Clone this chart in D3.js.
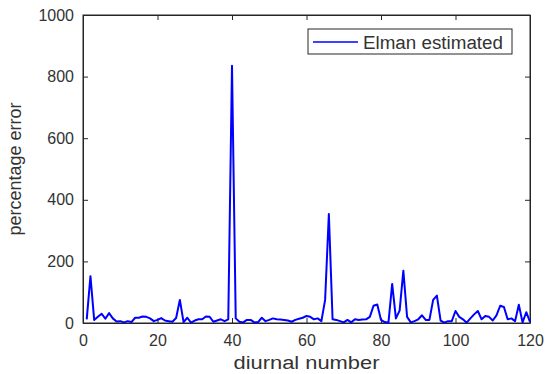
<!DOCTYPE html>
<html>

<head>
  <meta charset="utf8">
  <script src="https://d3js.org/d3.v7.min.js"></script>
  <style>
    body { margin: 0; background: #fff; }
    text { font-family: "Liberation Sans", Arial, sans-serif; fill: #333; }
    .axis path, .axis line { stroke: #262626; }
    .axis text { font-size: 16px; fill: #333; }
  </style>
</head>

<body>
  <svg id="chart" width="545" height="374"></svg>
  <script>
    var xTicks = [0, 20, 40, 60, 80, 100, 120];
    var yTicks = [0, 200, 400, 600, 800, 1000];
    var seriesName = 'Elman estimated';
    var days = d3.range(1, 121);
    var errors = [
      12, 152, 10, 20, 30, 14, 32, 15, 5, 6,
      2, 6, 3, 17, 17, 21, 20, 15, 6, 10,
      16, 8, 6, 4, 16, 75, 3, 17, 1, 8,
      12, 12, 21, 20, 4, 8, 12, 6, 12, 835,
      15, 4, 2, 10, 10, 2, 3, 17, 6, 10,
      15, 12, 11, 10, 8, 4, 10, 14, 17, 23,
      20, 12, 15, 6, 75, 354, 12, 10, 6, 2,
      10, 2, 12, 10, 11, 12, 20, 56, 60, 10,
      3, 1, 127, 15, 40, 170, 20, 2, 6, 12,
      25, 10, 10, 75, 89, 8, 1, 6, 6, 39,
      20, 12, 1, 15, 28, 39, 12, 23, 20, 8,
      25, 56, 52, 12, 15, 6, 59, 2, 35, 4
    ];

    var chart = d3.select('#chart');
    var plotLeft = 83, plotRight = 530, plotTop = 15, plotBottom = 323;

    var x = d3.scaleLinear().domain([0, 120]).range([plotLeft, plotRight]);
    var y = d3.scaleLinear().domain([0, 1000]).range([plotBottom, plotTop]);

    // box
    chart.append('rect')
      .attr('x', plotLeft).attr('y', plotTop)
      .attr('width', plotRight - plotLeft).attr('height', plotBottom - plotTop)
      .attr('fill', 'none').attr('stroke', '#262626');

    chart.append('g').attr('class', 'axis')
      .attr('transform', 'translate(0,' + plotBottom + ')')
      .call(d3.axisBottom(x).tickValues(xTicks).tickSizeInner(-5).tickSizeOuter(0).tickPadding(12));

    chart.append('g').attr('class', 'axis')
      .attr('transform', 'translate(' + plotLeft + ',0)')
      .call(d3.axisLeft(y).tickValues(yTicks).tickFormat(d3.format('d'))
        .tickSizeInner(-5).tickSizeOuter(0).tickPadding(9));

    // mirrored ticks on top and right
    chart.append('g').attr('class', 'axis')
      .attr('transform', 'translate(0,' + plotTop + ')')
      .call(d3.axisTop(x).tickValues(xTicks).tickSizeInner(-5).tickSizeOuter(0).tickFormat(''));

    chart.append('g').attr('class', 'axis')
      .attr('transform', 'translate(' + plotRight + ',0)')
      .call(d3.axisRight(y).tickValues(yTicks).tickSizeInner(-5).tickSizeOuter(0).tickFormat(''));

    var line = d3.line()
      .x((d, i) => x(days[i]))
      .y((d) => y(d));

    chart.append('path')
      .datum(errors)
      .attr('d', line)
      .attr('fill', 'none')
      .attr('stroke', '#0000ff')
      .attr('stroke-width', 2)
      .attr('stroke-linejoin', 'round');

    chart.append('text')
      .attr('x', (plotLeft + plotRight) / 2)
      .attr('y', 369)
      .attr('text-anchor', 'middle')
      .attr('font-size', 18)
      .attr('textLength', 146)
      .attr('lengthAdjust', 'spacingAndGlyphs')
      .text('diurnal number');

    chart.append('text')
      .attr('transform', 'translate(21,' + (plotTop + plotBottom) / 2 + ') rotate(-90)')
      .attr('text-anchor', 'middle')
      .attr('font-size', 18)
      .text('percentage error');

    // legend
    var legend = chart.append('g');
    legend.append('rect')
      .attr('x', 308).attr('y', 29).attr('width', 204).attr('height', 25)
      .attr('fill', '#fff').attr('stroke', '#262626');
    legend.append('line')
      .attr('x1', 313).attr('x2', 358).attr('y1', 42).attr('y2', 42)
      .attr('stroke', '#0000ff').attr('stroke-width', 1.5);
    legend.append('text')
      .attr('x', 363).attr('y', 49)
      .attr('font-size', 18)
      .attr('textLength', 140)
      .attr('lengthAdjust', 'spacingAndGlyphs')
      .text(seriesName);
  </script>
</body>

</html>
